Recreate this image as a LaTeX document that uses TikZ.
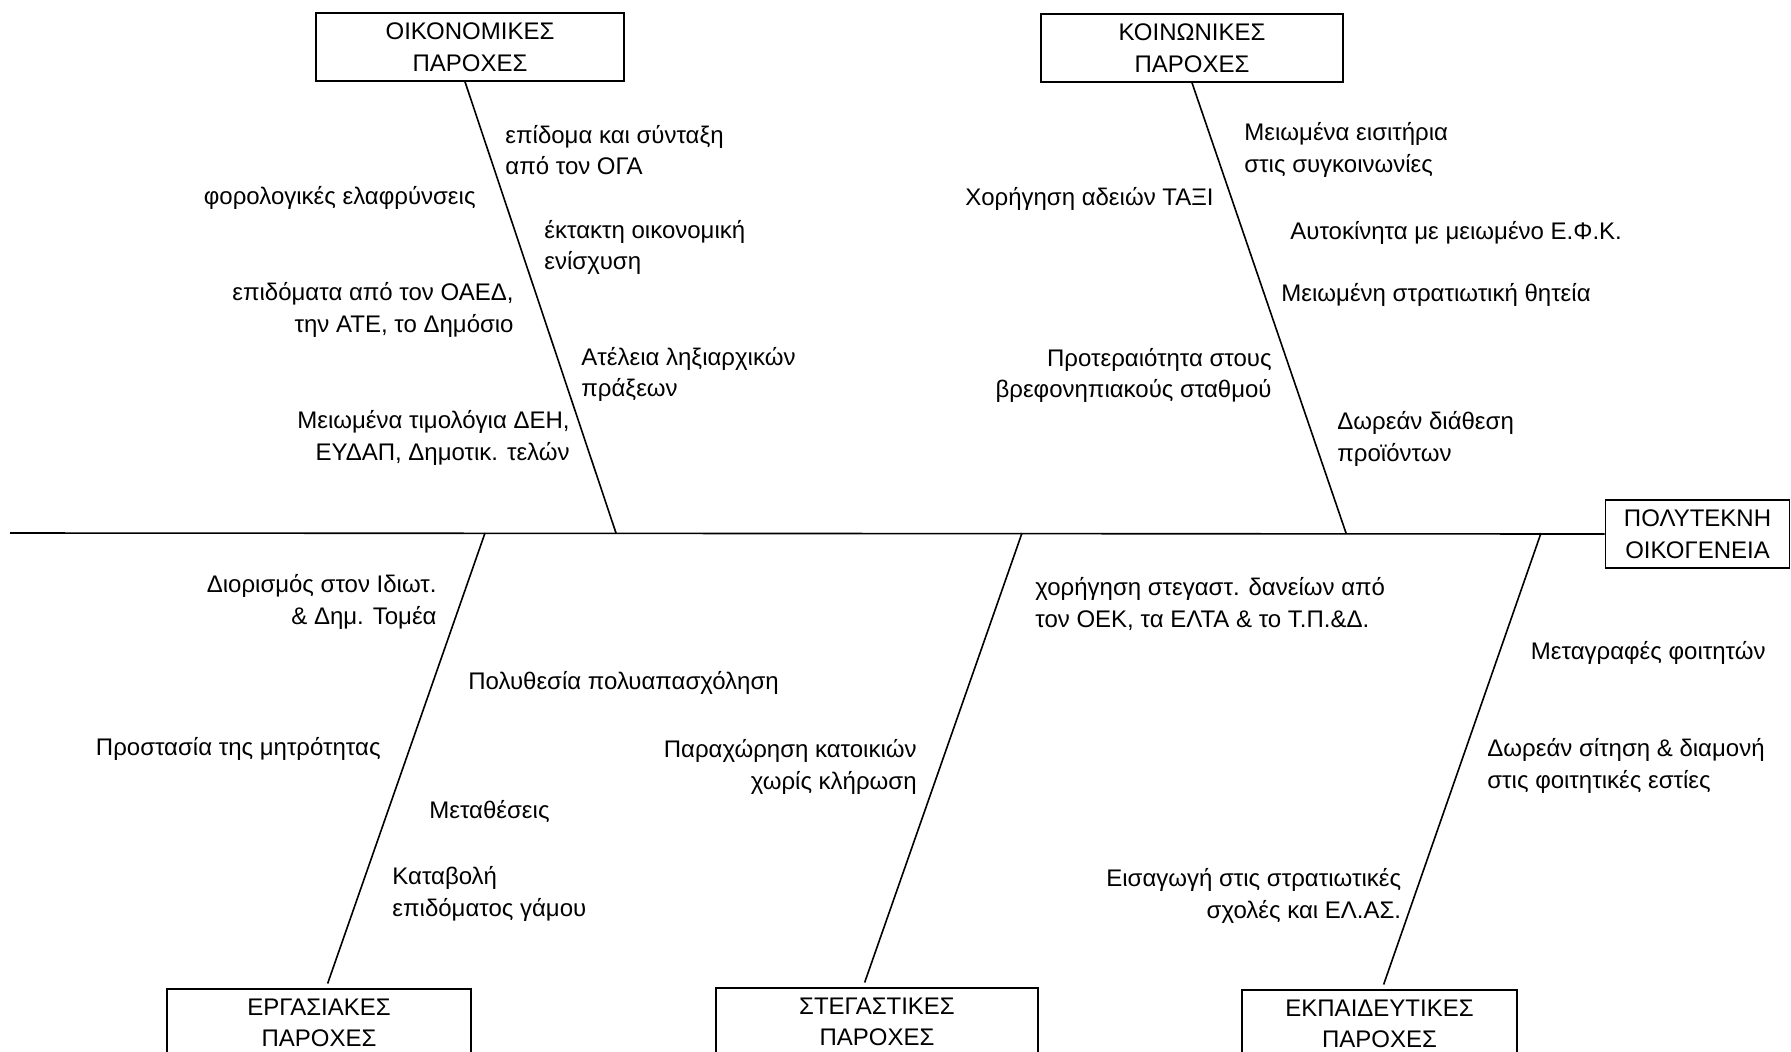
\documentclass[tikz,border=0pt]{standalone}
\usepackage{fontspec}
\setmainfont{Liberation Sans}

\begin{document}
\begin{tikzpicture}[
    x=0.5pt, y=-0.5pt,
    every node/.style={font=\fontsize{12}{15.75}\selectfont},
    category/.style={
        draw,
        line width=0.8pt,
        align=center,
        minimum height=34pt,
        inner sep=0pt
    },
    benefit/.style={inner sep=0pt, align=left, anchor=west},
    benefit left/.style={inner sep=0pt, align=right, anchor=east},
    bone/.style={line width=0.8pt}
]
\useasboundingbox (0,0) rectangle (1791,1051);
\clip (0,0) rectangle (1791,1051);

% categories
\node[category, minimum width=154pt] (oik) at (470,47) {ΟΙΚΟΝΟΜΙΚΕΣ\\ΠΑΡΟΧΕΣ};
\node[category, minimum width=151pt] (koin) at (1192,48) {ΚΟΙΝΩΝΙΚΕΣ\\ΠΑΡΟΧΕΣ};
\node[category, minimum width=152pt] (erg) at (319,1023) {ΕΡΓΑΣΙΑΚΕΣ\\ΠΑΡΟΧΕΣ};
\node[category, minimum width=161pt] (steg) at (877,1022) {ΣΤΕΓΑΣΤΙΚΕΣ\\ΠΑΡΟΧΕΣ};
\node[category, minimum width=137.5pt] (ekp) at (1379.5,1024) {ΕΚΠΑΙΔΕΥΤΙΚΕΣ\\ΠΑΡΟΧΕΣ};
% effect
\node[category, minimum width=92pt] (poly) at (1697.5,534) {ΠΟΛΥΤΕΚΝΗ\\ΟΙΚΟΓΕΝΕΙΑ};

% spine and bones
\coordinate (tail) at (10,533);
\coordinate (j-oik) at (616,533);
\coordinate (j-koin) at (1346,533);
\coordinate (j-erg) at (485,533);
\coordinate (j-steg) at (1022,533);
\coordinate (j-ekp) at (1541,533);
\draw[bone] (tail) -- (poly.west);
\draw[bone] ([xshift=-2.5pt]oik.south) -- (j-oik);
\draw[bone] (koin.south) -- (j-koin);
\draw[bone, shorten >=2.5pt] (j-erg) -- ([xshift=3.5pt]erg.north);
\draw[bone, shorten >=2.5pt] (j-steg) -- ([xshift=-7pt]steg.north);
\draw[bone, shorten >=2.5pt] (j-ekp) -- ([xshift=1.25pt]ekp.north);

% ΟΙΚΟΝΟΜΙΚΕΣ
\node[benefit] (o1) at (505,150) {επίδομα και σύνταξη\\από τον ΟΓΑ};
\node[benefit left] (o2) at (476,198) {φορολογικές ελαφρύνσεις};
\node[benefit] (o3) at (544,247.5) {έκτακτη οικονομική\\ενίσχυση};
\node[benefit left] (o4) at (514,310) {επιδόματα από τον ΟΑΕΔ,\\την ΑΤΕ, το Δημόσιο};
\node[benefit] (o5) at (581,374.5) {Ατέλεια ληξιαρχικών\\πράξεων};
\node[benefit left] (o6) at (570,438) {Μειωμένα τιμολόγια ΔΕΗ,\\ΕΥΔΑΠ, Δημοτικ. τελών};

% ΚΟΙΝΩΝΙΚΕΣ
\node[benefit] (k1) at (1244,150) {Μειωμένα εισιτήρια\\στις συγκοινωνίες};
\node[benefit left] (k2) at (1214,199) {Χορήγηση αδειών ΤΑΞΙ};
\node[benefit] (k3) at (1290,232.5) {Αυτοκίνητα με μειωμένο Ε.Φ.Κ.};
\node[benefit] (k4) at (1281,295) {Μειωμένη στρατιωτική θητεία};
\node[benefit left] (k5) at (1272,375.5) {Προτεραιότητα στους\\βρεφονηπιακούς σταθμού};
\node[benefit] (k6) at (1337,439) {Δωρεάν διάθεση\\προϊόντων};

% ΕΡΓΑΣΙΑΚΕΣ
\node[benefit left] (e1) at (437,602) {Διορισμός στον Ιδιωτ.\\\& Δημ. Τομέα};
\node[benefit] (e2) at (468,682.5) {Πολυθεσία πολυαπασχόληση};
\node[benefit left] (e3) at (381,748.5) {Προστασία της μητρότητας};
\node[benefit] (e4) at (429,812) {Μεταθέσεις};
\node[benefit] (e5) at (392,894) {Καταβολή\\επιδόματος γάμου};

% ΣΤΕΓΑΣΤΙΚΕΣ
\node[benefit] (s1) at (1035,604) {χορήγηση στεγαστ. δανείων από\\τον ΟΕΚ, τα ΕΛΤΑ \& το Τ.Π.\&Δ.};
\node[benefit left] (s2) at (917,767) {Παραχώρηση κατοικιών\\χωρίς κλήρωση};

% ΕΚΠΑΙΔΕΥΤΙΚΕΣ
\node[benefit left] (p1) at (1766,653) {Μεταγραφές φοιτητών};
\node[benefit] (p2) at (1487,766) {Δωρεάν σίτηση \& διαμονή\\στις φοιτητικές εστίες};
\node[benefit left] (p3) at (1401.5,896) {Εισαγωγή στις στρατιωτικές\\σχολές και ΕΛ.ΑΣ.};
\end{tikzpicture}
\end{document}
